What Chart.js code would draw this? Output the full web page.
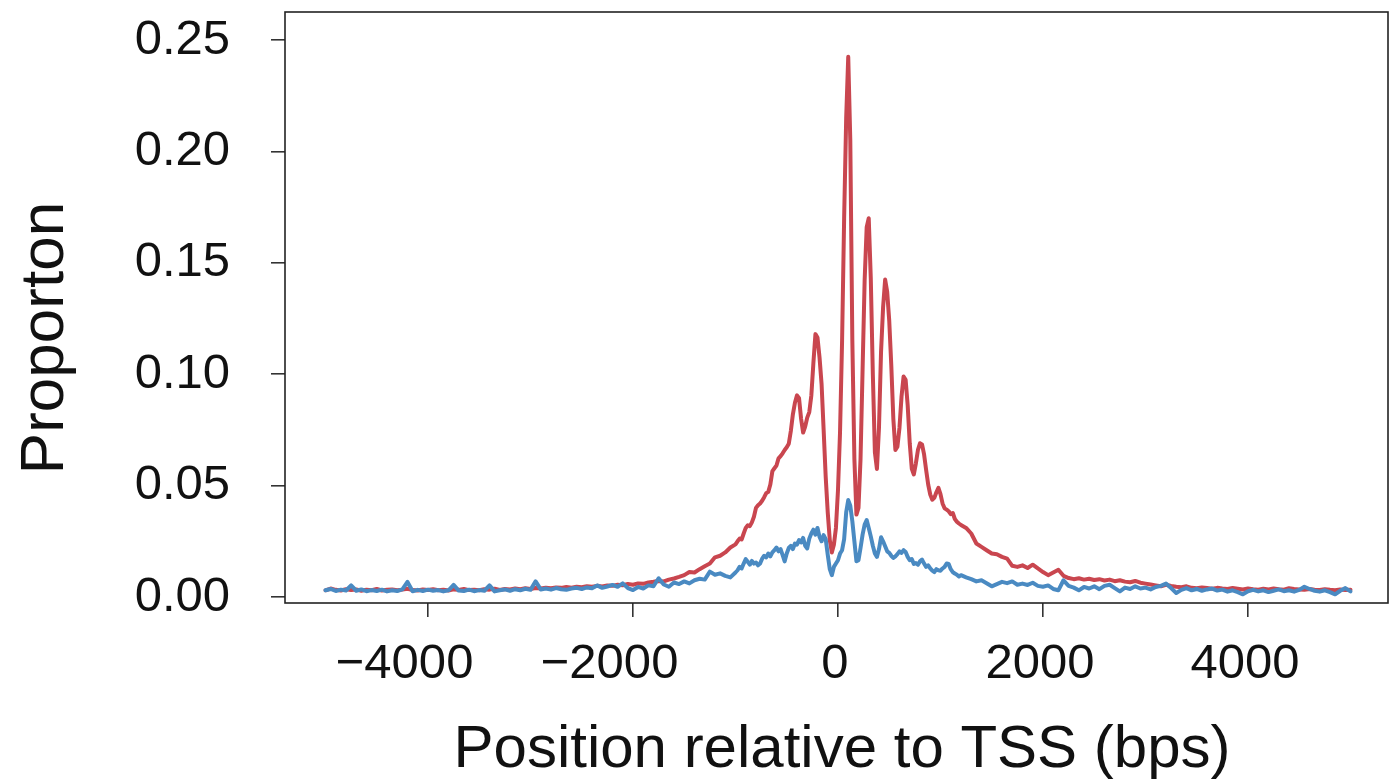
<!DOCTYPE html>
<html>
<head>
<meta charset="utf-8">
<script src="https://cdn.jsdelivr.net/npm/chart.js@4.4.1/dist/chart.umd.min.js"></script>
<style>
  html, body { margin: 0; padding: 0; background: #ffffff; }
  #wrap { width: 1389px; height: 781px; position: relative; }
</style>
</head>
<body>
<div id="wrap"><canvas id="c" width="1389" height="781"></canvas></div>
<script>
// ---- Data ----
const xTickValues = [-4000, -2000, 0, 2000, 4000];
const yTickValues = [0, 0.05, 0.10, 0.15, 0.20, 0.25];
const xTitle = "Position relative to TSS (bps)";
const yTitle = "Proporton";

// Positions (bp) of the three sampled segments
function grid(a, b, s) { const o = []; for (let v = a; v <= b; v += s) o.push(v); return o; }
const leftPositions = grid(-5000, -1000, 50);
const centerPositions = grid(-980, 1200, 20);
const rightPositions = grid(1250, 5000, 50);

const redLeft = [
  .0030,.0038,.0032,.0029,.0035,.0031,.0034,.0028,.0033,.0030,
  .0036,.0029,.0032,.0034,.0030,.0033,.0037,.0031,.0029,.0034,
  .0031,.0035,.0030,.0033,.0029,.0034,.0032,.0036,.0031,.0033,
  .0030,.0035,.0033,.0037,.0032,.0036,.0034,.0038,.0035,.0039,
  .0036,.0040,.0038,.0042,.0039,.0043,.0041,.0045,.0042,.0046,
  .0044,.0048,.0046,.0050,.0047,.0052,.0050,.0055,.0053,.0058,
  .0055,.0061,.0059,.0065,.0068,.0072,.0070,.0078,.0083,.0090,
  .0098,.0112,.0110,.0125,.0138,.0150,.0178,.0185,.0200,.0222,
  .0236
];
const redCenter = [
  .0250,.0262,.0258,.0285,.0310,.0322,.0318,.0335,.0360,.0400,
  .0412,.0420,.0432,.0448,.0466,.0472,.0505,.0565,.0578,.0590,
  .0622,.0632,.0645,.0660,.0672,.0688,.0745,.0820,.0872,.0905,
  .0892,.0800,.0738,.0765,.0805,.0830,.0905,.1050,.1180,.1165,
  .1075,.0955,.0750,.0540,.0380,.0255,.0200,.0235,.0310,.0480,
  .0740,.1150,.1700,.2150,.2425,.2050,.1150,.0620,.0370,.0400,
  .0620,.1020,.1420,.1660,.1700,.1430,.1000,.0650,.0575,.0760,
  .1100,.1300,.1425,.1370,.1240,.1040,.0800,.0660,.0675,.0760,
  .0900,.0990,.0975,.0860,.0690,.0575,.0550,.0600,.0660,.0690,
  .0685,.0640,.0570,.0505,.0460,.0437,.0445,.0470,.0490,.0462,
  .0420,.0398,.0392,.0385,.0372,.0377,.0350,.0338,.0330,.0323
];
const redRight = [
  .0310,.0285,.0240,.0225,.0210,.0195,.0192,.0180,.0172,.0140,
  .0135,.0142,.0130,.0145,.0128,.0112,.0098,.0110,.0122,.0095,
  .0085,.0080,.0084,.0078,.0082,.0076,.0080,.0074,.0078,.0071,
  .0075,.0069,.0066,.0072,.0064,.0060,.0056,.0052,.0048,.0055,
  .0050,.0046,.0044,.0048,.0041,.0039,.0043,.0040,.0037,.0041,
  .0038,.0036,.0040,.0037,.0034,.0038,.0035,.0033,.0037,.0034,
  .0038,.0035,.0033,.0039,.0036,.0034,.0032,.0036,.0033,.0031,
  .0035,.0032,.0030,.0034,.0031,.0033
];

const blueLeft = [
  .0030,.0036,.0027,.0033,.0029,.0052,.0028,.0034,.0026,.0031,
  .0027,.0033,.0025,.0030,.0027,.0034,.0068,.0026,.0032,.0027,
  .0033,.0028,.0031,.0025,.0030,.0054,.0029,.0027,.0033,.0026,
  .0031,.0028,.0052,.0025,.0030,.0034,.0028,.0035,.0030,.0037,
  .0032,.0070,.0034,.0038,.0033,.0040,.0035,.0032,.0038,.0041,
  .0036,.0043,.0039,.0052,.0041,.0047,.0054,.0046,.0061,.0040,
  .0031,.0045,.0038,.0052,.0048,.0084,.0056,.0046,.0065,.0058,
  .0070,.0061,.0075,.0082,.0078,.0114,.0100,.0106,.0095,.0088,
  .0110
];
const blueCenter = [
  .0120,.0135,.0128,.0150,.0170,.0158,.0145,.0162,.0150,.0155,
  .0142,.0150,.0172,.0185,.0178,.0195,.0182,.0200,.0210,.0222,
  .0205,.0215,.0188,.0160,.0195,.0220,.0230,.0215,.0240,.0235,
  .0255,.0245,.0265,.0230,.0218,.0262,.0285,.0302,.0280,.0310,
  .0270,.0250,.0278,.0260,.0190,.0125,.0098,.0135,.0150,.0165,
  .0195,.0210,.0260,.0380,.0435,.0410,.0340,.0250,.0160,.0165,
  .0220,.0280,.0325,.0345,.0310,.0272,.0230,.0195,.0180,.0215,
  .0268,.0250,.0228,.0205,.0198,.0185,.0175,.0182,.0192,.0205,
  .0198,.0210,.0202,.0180,.0165,.0170,.0148,.0152,.0145,.0160,
  .0168,.0150,.0135,.0142,.0128,.0118,.0112,.0125,.0120,.0118,
  .0128,.0135,.0150,.0148,.0125,.0112,.0105,.0100,.0092,.0098
];
const blueRight = [
  .0088,.0080,.0070,.0075,.0062,.0048,.0058,.0068,.0062,.0070,
  .0055,.0060,.0054,.0064,.0050,.0046,.0052,.0036,.0030,.0075,
  .0050,.0042,.0030,.0045,.0038,.0048,.0035,.0050,.0055,.0040,
  .0025,.0042,.0036,.0048,.0038,.0042,.0034,.0045,.0050,.0060,
  .0040,.0018,.0032,.0040,.0030,.0036,.0028,.0034,.0038,.0029,
  .0033,.0024,.0030,.0022,.0012,.0026,.0032,.0025,.0030,.0022,
  .0028,.0034,.0026,.0030,.0024,.0032,.0046,.0036,.0028,.0024,
  .0030,.0022,.0012,.0028,.0040,.0025
];

const positions = leftPositions.concat(centerPositions, rightPositions);
const redValues = redLeft.concat(redCenter, redRight);
const blueValues = blueLeft.concat(blueCenter, blueRight);
const toPoints = vals => positions.map((p, i) => ({ x: p, y: vals[i] }));

const FONT = '"Liberation Sans", Arial, Helvetica, sans-serif';
const INK = '#111111';

const boxAndTitles = {
  id: 'boxAndTitles',
  afterDraw(chart) {
    const { ctx, chartArea: a } = chart;
    ctx.save();
    ctx.strokeStyle = '#222222';
    ctx.lineWidth = 1.6;
    ctx.strokeRect(a.left, a.top, a.right - a.left, a.bottom - a.top);
    ctx.fillStyle = INK;
    ctx.font = '60px ' + FONT;
    ctx.textAlign = 'center';
    ctx.textBaseline = 'alphabetic';
    ctx.fillText(xTitle, 842, 767);
    ctx.translate(63, 338);
    ctx.rotate(-Math.PI / 2);
    ctx.font = '62px ' + FONT;
    ctx.fillText(yTitle, 0, 0);
    ctx.restore();
  }
};

new Chart(document.getElementById('c'), {
  type: 'line',
  data: {
    datasets: [
      { label: 'blue', data: toPoints(blueValues), borderColor: '#4A8AC2', borderWidth: 4,
        pointRadius: 0, tension: 0, fill: false, borderJoinStyle: 'round', borderCapStyle: 'round' },
      { label: 'red', data: toPoints(redValues), borderColor: '#C9464F', borderWidth: 4,
        pointRadius: 0, tension: 0, fill: false, borderJoinStyle: 'round', borderCapStyle: 'round' }
    ]
  },
  options: {
    responsive: false,
    animation: false,
    devicePixelRatio: 1,
    layout: { padding: { left: 0, top: 12, right: 1, bottom: 0 } },
    plugins: { legend: { display: false }, tooltip: { enabled: false } },
    scales: {
      x: {
        type: 'linear', min: -5395, max: 5366,
        afterBuildTicks: s => { s.ticks = xTickValues.map(v => ({ value: v })); },
        afterFit: s => { s.height = 178; s.paddingLeft = 0; s.paddingRight = 0; },
        grid: { display: true, drawOnChartArea: false, drawTicks: true, tickLength: 14, color: '#333333', lineWidth: 1.6 },
        border: { display: false },
        ticks: {
          autoSkip: false, maxRotation: 0, minRotation: 0, padding: 18, labelOffset: -3,
          color: INK, font: { family: FONT, size: 49 },
          callback: v => v < 0 ? '\u2212' + Math.abs(v) + '   ' : String(v)
        }
      },
      y: {
        type: 'linear', min: -0.0027, max: 0.2626,
        afterBuildTicks: s => { s.ticks = yTickValues.map(v => ({ value: v })); },
        afterFit: s => { s.width = 285; s.paddingTop = 0; s.paddingBottom = 0; },
        grid: { display: true, drawOnChartArea: false, drawTicks: true, tickLength: 14, color: '#333333', lineWidth: 1.6 },
        border: { display: false },
        ticks: {
          padding: 41, color: INK, font: { family: FONT, size: 49 },
          callback: v => Number(v).toFixed(2)
        }
      }
    }
  },
  plugins: [boxAndTitles]
});
</script>
</body>
</html>
